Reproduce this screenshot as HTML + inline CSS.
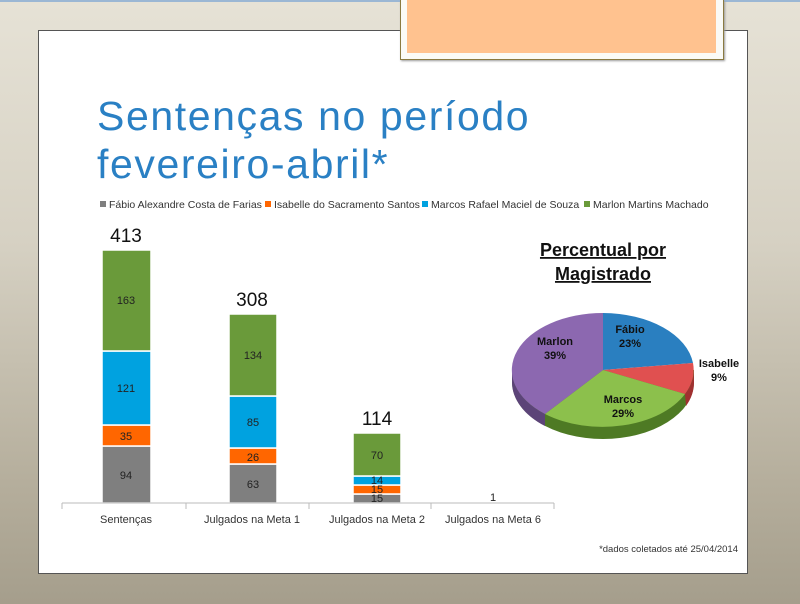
<!DOCTYPE html>
<html><head><meta charset="utf-8"><style>
body{margin:0;width:800px;height:604px;overflow:hidden;position:relative;font-family:"Liberation Sans",sans-serif;
background:linear-gradient(180deg,#e6e2d6 0%,#d6d1c3 40%,#b5ae9c 80%,#a59e8c 100%);}
.t{position:absolute;white-space:nowrap}
</style></head><body>
<div style="position:absolute;left:0;top:0;width:800px;height:2px;background:#9bb7d4"></div>
<div style="position:absolute;left:38px;top:30px;width:710px;height:544px;background:#fff;border:1px solid #555;box-sizing:border-box"></div>
<div style="position:absolute;left:400px;top:0;width:324px;height:60px;background:#fafaf6;border:1px solid #8a7a40;border-top:none;box-shadow:1px 1px 2px #999;box-sizing:border-box"></div>
<div style="position:absolute;left:407px;top:0;width:309px;height:53px;background:#ffc28f"></div>
<div class="t" style="left:97px;top:92px;font-size:41px;color:#2a80c4;line-height:48px;letter-spacing:1.6px">Sentenças no período<br>fevereiro-abril*</div>
<svg width="800" height="604" style="position:absolute;left:0;top:0" font-family="Liberation Sans, sans-serif">
<g font-size="10.5" fill="#333">
<rect x="100" y="201" width="6" height="6" fill="#7f7f7f"/><text x="109" y="208">Fábio Alexandre Costa de Farias</text>
<rect x="265" y="201" width="6" height="6" fill="#ff6600"/><text x="274" y="208">Isabelle do Sacramento Santos</text>
<rect x="422" y="201" width="6" height="6" fill="#00a2e0"/><text x="431" y="208">Marcos Rafael Maciel de Souza</text>
<rect x="584" y="201" width="6" height="6" fill="#6a9a3a"/><text x="593" y="208">Marlon Martins Machado</text>
</g>
<g stroke="#fff" stroke-width="1.5">
<rect x="102" y="446" width="49" height="57" fill="#7f7f7f"/>
<rect x="102" y="425" width="49" height="21" fill="#ff6600"/>
<rect x="102" y="351" width="49" height="74" fill="#00a2e0"/>
<rect x="102" y="250" width="49" height="101" fill="#6a9a3a"/>
<rect x="229" y="464" width="48" height="39" fill="#7f7f7f"/>
<rect x="229" y="448" width="48" height="16" fill="#ff6600"/>
<rect x="229" y="396" width="48" height="52" fill="#00a2e0"/>
<rect x="229" y="314" width="48" height="82" fill="#6a9a3a"/>
<rect x="353" y="494" width="48" height="9" fill="#7f7f7f"/>
<rect x="353" y="485" width="48" height="9" fill="#ff6600"/>
<rect x="353" y="476" width="48" height="9" fill="#00a2e0"/>
<rect x="353" y="433" width="48" height="43" fill="#6a9a3a"/>
</g>
<g font-size="11" fill="#222" text-anchor="middle">
<text x="126" y="479">94</text><text x="126" y="440">35</text><text x="126" y="392">121</text><text x="126" y="304">163</text>
<text x="253" y="488">63</text><text x="253" y="461">26</text><text x="253" y="426">85</text><text x="253" y="359">134</text>
<text x="377" y="502">15</text><text x="377" y="493">15</text><text x="377" y="484">14</text><text x="377" y="459">70</text>
<text x="493" y="501">1</text>
</g>
<g font-size="19" fill="#111" text-anchor="middle">
<text x="126" y="242">413</text><text x="252" y="306">308</text><text x="377" y="425">114</text>
</g>
<g stroke="#bbb" fill="none"><path d="M62 503H554M62 503v6M186 503v6M309 503v6M431 503v6M554 503v6"/></g>
<g font-size="11" fill="#333" text-anchor="middle">
<text x="126" y="523">Sentenças</text><text x="252" y="523">Julgados na Meta 1</text><text x="377" y="523">Julgados na Meta 2</text><text x="493" y="523">Julgados na Meta 6</text>
</g>
<text x="738" y="552" font-size="9.5" fill="#333" text-anchor="end">*dados coletados até 25/04/2014</text>
<g font-size="18" font-weight="bold" fill="#111" text-anchor="middle" text-decoration="underline">
<text x="603" y="256">Percentual por</text><text x="603" y="280">Magistrado</text>
</g>
<path d="M512 370 L512 382 A91 57 0 0 0 694 382 L694 370 Z" fill="#4e7a24"/>
<path d="M512 370 L512 382 A91 57 0 0 0 545 426 L545 414 A91 57 0 0 1 512 370Z" fill="#5c4478"/>
<path d="M685 394 L686 406 A91 57 0 0 0 694 382 L694 370 A91 57 0 0 1 685 394Z" fill="#a03030"/>
<path d="M603 370 L603 313 A91 57 0 0 1 693 363 Z" fill="#2a7fc0"/>
<path d="M603 370 L693 363 A91 57 0 0 1 685 394 Z" fill="#e05050"/>
<path d="M603 370 L685 394 A91 57 0 0 1 545 414 Z" fill="#8cc04c"/>
<path d="M603 370 L545 414 A91 57 0 0 1 603 313 Z" fill="#8c68b0"/>
<g font-size="11" font-weight="bold" fill="#111" text-anchor="middle">
<text x="630" y="333">Fábio</text><text x="630" y="347">23%</text>
<text x="719" y="367">Isabelle</text><text x="719" y="381">9%</text>
<text x="623" y="403">Marcos</text><text x="623" y="417">29%</text>
<text x="555" y="345">Marlon</text><text x="555" y="359">39%</text>
</g>
</svg>
</body></html>
